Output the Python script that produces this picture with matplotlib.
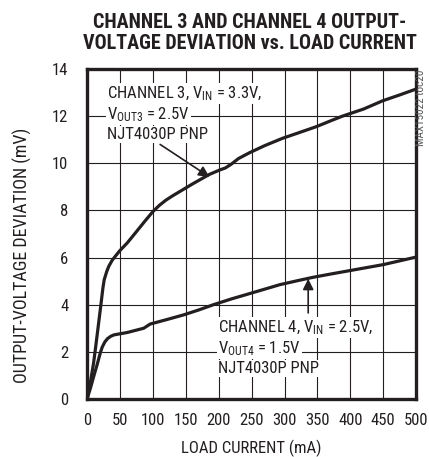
import numpy as np
import matplotlib
matplotlib.use('Agg')
import matplotlib.pyplot as plt

# Fonts - condensed sans to look like the datasheet
FONT = ['Roboto Condensed', 'DejaVu Sans']
plt.rcParams['font.family'] = FONT
plt.rcParams['mathtext.fontset'] = 'custom'
plt.rcParams['mathtext.rm'] = 'Roboto Condensed'
plt.rcParams['mathtext.it'] = 'Roboto Condensed'

# Data
ch3_current = [0, 5, 10, 13, 17, 21, 24, 26, 30, 33, 38, 43, 50, 61, 75, 88, 100, 110,
               120, 130, 142, 160, 186, 202, 210, 219, 230, 247, 270, 297, 320, 348, 370,
               388, 420, 449, 475, 500]
ch3_dev = [0, 0.7, 1.55, 2.2, 3.1, 4.0, 4.7, 5.06, 5.42, 5.63, 5.88, 6.06, 6.3, 6.62,
           7.1, 7.55, 7.95, 8.22, 8.44, 8.62, 8.82, 9.12, 9.53, 9.72, 9.8, 9.96, 10.2,
           10.45, 10.75, 11.06, 11.28, 11.55, 11.8, 12.0, 12.3, 12.65, 12.9, 13.15]

ch4_current = [0, 5, 10, 15.6, 20, 23, 27, 31, 36, 41, 61, 86, 96, 120, 147, 170, 192,
               220, 242, 270, 293, 320, 343, 370, 394, 450, 500]
ch4_dev = [0, 0.45, 0.95, 1.49, 1.95, 2.2, 2.42, 2.56, 2.66, 2.72, 2.82, 3.0, 3.18,
           3.36, 3.57, 3.78, 4.0, 4.25, 4.43, 4.66, 4.85, 5.02, 5.16, 5.3, 5.42, 5.7, 6.02]

x_ticks = [0, 50, 100, 150, 200, 250, 300, 350, 400, 450, 500]
y_ticks = [0, 2, 4, 6, 8, 10, 12, 14]

ch3_label = ['CHANNEL 3, $\\mathregular{V_{IN}}$ = 3.3V,',
             '$\\mathregular{V_{OUT3}}$ = 2.5V',
             'NJT4030P PNP']
ch4_label = ['CHANNEL 4, $\\mathregular{V_{IN}}$ = 2.5V,',
             '$\\mathregular{V_{OUT4}}$ = 1.5V',
             'NJT4030P PNP']

INK = '#231f20'

fig = plt.figure(figsize=(4.29, 4.57), dpi=100)
ax = fig.add_axes([0.203, 0.127, 0.767, 0.722])

ax.plot(ch3_current, ch3_dev, color=INK, lw=2.3, solid_capstyle='round',
        solid_joinstyle='round', zorder=4)
ax.plot(ch4_current, ch4_dev, color=INK, lw=2.3, solid_capstyle='round',
        solid_joinstyle='round', zorder=4)

ax.set_xlim(0, 500)
ax.set_ylim(0, 14)
ax.set_xticks(x_ticks)
ax.set_yticks(y_ticks)
ax.tick_params(length=0, labelsize=12, colors=INK)
ax.tick_params(axis='x', pad=10)
ax.tick_params(axis='y', pad=13.5)
ax.grid(True, color=INK, lw=0.8)
for s in ax.spines.values():
    s.set_linewidth(2.4)
    s.set_color(INK)

ax.set_xlabel('LOAD CURRENT (mA)', fontsize=12, color=INK)
ax.xaxis.set_label_coords(0.5, -0.125)
ax.set_ylabel('OUTPUT-VOLTAGE DEVIATION (mV)', fontsize=13, color=INK)
ax.yaxis.set_label_coords(-0.167, 0.436)

# label text, each line with its own white background
box = dict(facecolor='white', edgecolor='none', pad=0.8)
ch3_base = [12.77, 11.86, 11.02]
ch4_base = [2.84, 1.95, 1.1]
for line, yb in zip(ch3_label, ch3_base):
    ax.text(30, yb, line, fontsize=12, color=INK, va='baseline',
            ha='left', bbox=box, zorder=3)
for line, yb in zip(ch4_label, ch4_base):
    ax.text(199, yb, line, fontsize=12, color=INK, va='baseline',
            ha='left', bbox=box, zorder=3)

# arrows pointing at curves
ax.annotate('', xy=(186, 9.42), xytext=(111, 10.8),
            arrowprops=dict(arrowstyle='-|>', color=INK, lw=1.2,
                            mutation_scale=16, shrinkA=0, shrinkB=0), zorder=5)
ax.annotate('', xy=(336, 5.1), xytext=(336, 3.65),
            arrowprops=dict(arrowstyle='-|>', color=INK, lw=1.2,
                            mutation_scale=16, shrinkA=0, shrinkB=0), zorder=5)

fig.text(0.583, 0.9387, 'CHANNEL 3 AND CHANNEL 4 OUTPUT-', fontsize=14.5, fontweight='bold',
         ha='center', va='baseline', color=INK)
fig.text(0.583, 0.892, 'VOLTAGE DEVIATION vs. LOAD CURRENT', fontsize=14.5, fontweight='bold',
         ha='center', va='baseline', color=INK)

fig.text(0.9825, 0.847, 'MAX15022 toc20', fontsize=8, rotation=90, ha='center', va='top',
         color='#555555')

fig.savefig('out.png', dpi=100)
